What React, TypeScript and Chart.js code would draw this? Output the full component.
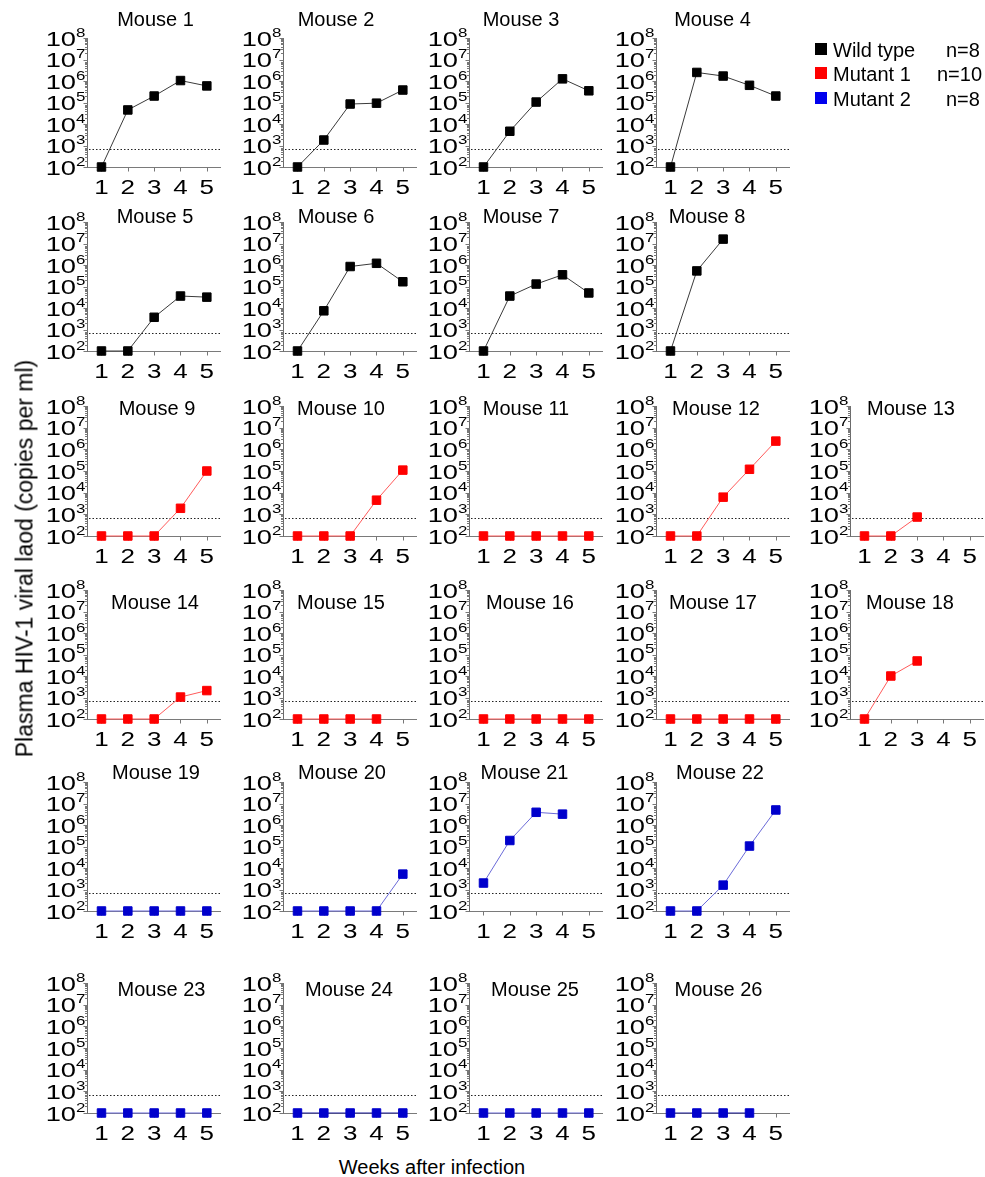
import React, { useEffect, useRef } from 'react';
import { Chart, registerables } from 'chart.js';
Chart.register(...registerables);

// ---------- data ----------
const weeks = [1, 2, 3, 4, 5];
const decadeExponents = [2, 3, 4, 5, 6, 7, 8];
const detectionLimit = 660;

// Wild type (n=8)
const mouse1 = [100, 4.5e4, 2.0e5, 1.05e6, 5.9e5];
const mouse2 = [100, 1.8e3, 8.5e4, 9.3e4, 3.8e5];
const mouse3 = [100, 4.6e3, 1.05e5, 1.26e6, 3.5e5];
const mouse4 = [100, 2.5e6, 1.7e6, 6.3e5, 2.0e5];
const mouse5 = [100, 100, 3.7e3, 3.6e4, 3.2e4];
const mouse6 = [100, 7.4e3, 8.5e5, 1.2e6, 1.66e5];
const mouse7 = [100, 3.6e4, 1.3e5, 3.5e5, 5.0e4];
const mouse8 = [100, 5.3e5, 1.6e7, null, null];
// Mutant 1 (n=10)
const mouse9 = [100, 100, 100, 1.9e3, 1.0e5];
const mouse10 = [100, 100, 100, 4.5e3, 1.1e5];
const mouse11 = [100, 100, 100, 100, 100];
const mouse12 = [100, 100, 6.2e3, 1.2e5, 2.4e6];
const mouse13 = [100, 100, 750, null, null];
const mouse14 = [100, 100, 100, 1.05e3, 2.1e3];
const mouse15 = [100, 100, 100, 100, null];
const mouse16 = [100, 100, 100, 100, 100];
const mouse17 = [100, 100, 100, 100, 100];
const mouse18 = [100, 1.0e4, 5.0e4, null, null];
// Mutant 2 (n=8)
const mouse19 = [100, 100, 100, 100, 100];
const mouse20 = [100, 100, 100, 100, 5.2e3];
const mouse21 = [2.0e3, 1.9e5, 3.9e6, 3.2e6, null];
const mouse22 = [100, 100, 1.6e3, 1.05e5, 5.0e6];
const mouse23 = [100, 100, 100, 100, 100];
const mouse24 = [100, 100, 100, 100, 100];
const mouse25 = [100, 100, 100, 100, 100];
const mouse26 = [100, 100, 100, 100, null];

const legendLabels = ['Wild type', 'Mutant 1', 'Mutant 2'];
const legendCounts = ['n=8', 'n=10', 'n=8'];

// ---------- styles / layout ----------
const FONT = '"Liberation Sans", Arial, Helvetica, sans-serif';
const groupStyle: Record<string, { marker: string; line: string }> = {
  wt: { marker: '#000000', line: '#3a3a3a' },
  m1: { marker: '#ff0000', line: '#ff5a5a' },
  m2: { marker: '#0000cc', line: '#6a6ad8' },
};
const colX = [87, 283, 469, 656, 850];
const rowTop = [38, 222, 406, 590, 782, 983];
const rowBottom = [167, 351, 536, 719, 911, 1113];
const rowTitleDy = [-19, -6, 2, 12, -10, 6];
const PADL = 62;
const PADR = 6;
const PADT = 34;
const PADB = 34;
const PLOT_W = 134;

type PanelSpec = {
  id: number;
  values: (number | null)[];
  group: string;
  row: number;
  col: number;
  titleDx: number;
  lineColor?: string;
};

const panels: PanelSpec[] = [
  { id: 1, values: mouse1, group: 'wt', row: 0, col: 0, titleDx: 68.5 },
  { id: 2, values: mouse2, group: 'wt', row: 0, col: 1, titleDx: 53 },
  { id: 3, values: mouse3, group: 'wt', row: 0, col: 2, titleDx: 52 },
  { id: 4, values: mouse4, group: 'wt', row: 0, col: 3, titleDx: 56.5 },
  { id: 5, values: mouse5, group: 'wt', row: 1, col: 0, titleDx: 68 },
  { id: 6, values: mouse6, group: 'wt', row: 1, col: 1, titleDx: 53 },
  { id: 7, values: mouse7, group: 'wt', row: 1, col: 2, titleDx: 52 },
  { id: 8, values: mouse8, group: 'wt', row: 1, col: 3, titleDx: 51 },
  { id: 9, values: mouse9, group: 'm1', row: 2, col: 0, titleDx: 70 },
  { id: 10, values: mouse10, group: 'm1', row: 2, col: 1, titleDx: 58 },
  { id: 11, values: mouse11, group: 'm1', row: 2, col: 2, titleDx: 57 },
  { id: 12, values: mouse12, group: 'm1', row: 2, col: 3, titleDx: 60 },
  { id: 13, values: mouse13, group: 'm1', row: 2, col: 4, titleDx: 61 },
  { id: 14, values: mouse14, group: 'm1', row: 3, col: 0, titleDx: 68 },
  { id: 15, values: mouse15, group: 'm1', row: 3, col: 1, titleDx: 58 },
  { id: 16, values: mouse16, group: 'm1', row: 3, col: 2, titleDx: 61 },
  { id: 17, values: mouse17, group: 'm1', row: 3, col: 3, titleDx: 57 },
  { id: 18, values: mouse18, group: 'm1', row: 3, col: 4, titleDx: 60 },
  { id: 19, values: mouse19, group: 'm2', row: 4, col: 0, titleDx: 69 },
  { id: 20, values: mouse20, group: 'm2', row: 4, col: 1, titleDx: 59 },
  { id: 21, values: mouse21, group: 'm2', row: 4, col: 2, titleDx: 55.5 },
  { id: 22, values: mouse22, group: 'm2', row: 4, col: 3, titleDx: 64 },
  { id: 23, values: mouse23, group: 'm2', row: 5, col: 0, titleDx: 74.5 },
  { id: 24, values: mouse24, group: 'm2', row: 5, col: 1, titleDx: 66, lineColor: '#1c1c9c' },
  { id: 25, values: mouse25, group: 'm2', row: 5, col: 2, titleDx: 66 },
  { id: 26, values: mouse26, group: 'm2', row: 5, col: 3, titleDx: 62.5, lineColor: '#1c1c9c' },
];

function Panel({ p }: { p: PanelSpec }) {
  const ref = useRef<HTMLCanvasElement>(null);
  const plotH = rowBottom[p.row] - rowTop[p.row];
  const W = PADL + PLOT_W + PADR;
  const H = PADT + plotH + PADB;
  const left = colX[p.col] - PADL;
  const top = rowTop[p.row] - PADT;

  useEffect(() => {
    const style = groupStyle[p.group];
    const decor = {
      id: 'decor',
      beforeDatasetsDraw(chart: any) {
        const { ctx, chartArea, scales } = chart;
        const ys = scales.y;
        const xs = scales.x;
        const L = Math.floor(chartArea.left) + 0.5;
        const B = Math.floor(chartArea.bottom) + 0.5;
        ctx.save();
        // detection limit dotted line
        const yl = Math.round(ys.getPixelForValue(detectionLimit)) + 0.5;
        ctx.strokeStyle = '#222';
        ctx.lineWidth = 1.2;
        ctx.setLineDash([1.5, 2]);
        ctx.beginPath();
        ctx.moveTo(chartArea.left + 2, yl);
        ctx.lineTo(chartArea.right, yl);
        ctx.stroke();
        ctx.setLineDash([]);
        // y ticks (major + minor)
        ctx.strokeStyle = '#777';
        ctx.lineWidth = 1;
        ctx.beginPath();
        for (const e of decadeExponents) {
          const y = Math.round(ys.getPixelForValue(Math.pow(10, e))) + 0.5;
          ctx.moveTo(L - 4, y);
          ctx.lineTo(L, y);
          if (e < 8) {
            for (let k = 2; k <= 9; k++) {
              const ym = Math.round(ys.getPixelForValue(k * Math.pow(10, e))) + 0.5;
              ctx.moveTo(L - 2.5, ym);
              ctx.lineTo(L, ym);
            }
          }
        }
        // x ticks
        for (const w of weeks) {
          const x = Math.round(xs.getPixelForValue(w)) + 0.5;
          ctx.moveTo(x, B);
          ctx.lineTo(x, B + 4);
        }
        ctx.stroke();
        ctx.restore();
      },
      afterDraw(chart: any) {
        const { ctx, chartArea, scales } = chart;
        const ys = scales.y;
        const xs = scales.x;
        const L = chartArea.left;
        ctx.save();
        ctx.fillStyle = '#000';
        ctx.textBaseline = 'alphabetic';
        for (const e of decadeExponents) {
          const y = ys.getPixelForValue(Math.pow(10, e));
          ctx.save();
          ctx.translate(L - 11, y + 7.5);
          ctx.scale(1.3, 1);
          ctx.font = `21px ${FONT}`;
          ctx.textAlign = 'right';
          ctx.fillText('10', 0, 0);
          ctx.restore();
          ctx.save();
          ctx.translate(L - 11, y - 1.5);
          ctx.scale(1.3, 1);
          ctx.font = `13px ${FONT}`;
          ctx.textAlign = 'left';
          ctx.fillText(String(e), 0, 0);
          ctx.restore();
        }
        for (const w of weeks) {
          const x = xs.getPixelForValue(w);
          ctx.save();
          ctx.translate(x, chartArea.bottom + 27);
          ctx.scale(1.3, 1);
          ctx.font = `20px ${FONT}`;
          ctx.textAlign = 'center';
          ctx.fillText(String(w), 0, 0);
          ctx.restore();
        }
        ctx.font = `20px ${FONT}`;
        ctx.textAlign = 'center';
        ctx.fillText(`Mouse ${p.id}`, L + p.titleDx, chartArea.top + rowTitleDy[p.row] + 7.2);
        ctx.restore();
      },
    };

    const chart = new Chart(ref.current as HTMLCanvasElement, {
      type: 'line',
      data: {
        datasets: [
          {
            data: p.values.map((v, i) => ({ x: weeks[i], y: v })) as any,
            borderColor: p.lineColor || style.line,
            backgroundColor: style.marker,
            pointBackgroundColor: style.marker,
            pointBorderColor: style.marker,
            pointStyle: 'rect',
            pointRadius: 6,
            pointBorderWidth: 1,
            borderWidth: 1,
            tension: 0,
            clip: false as any,
            spanGaps: false,
          },
        ],
      },
      options: {
        animation: false,
        responsive: false,
        events: [],
        layout: { padding: { left: 0, top: PADT, right: PADR, bottom: 0 } },
        plugins: { legend: { display: false }, tooltip: { enabled: false }, title: { display: false } },
        scales: {
          x: {
            type: 'linear',
            min: 0.45,
            max: 5.5,
            grid: { display: true, drawOnChartArea: false, drawTicks: false },
            border: { display: true, color: '#7a7a7a', width: 1 },
            ticks: { display: false },
            afterBuildTicks: (scale: any) => {
              scale.ticks = weeks.map((w) => ({ value: w }));
            },
            afterFit: (scale: any) => {
              scale.height = PADB;
            },
          },
          y: {
            type: 'logarithmic',
            min: 100,
            max: 1e8,
            grid: { display: true, drawOnChartArea: false, drawTicks: false },
            border: { display: true, color: '#6a6a6a', width: 1 },
            ticks: { display: false },
            afterBuildTicks: (scale: any) => {
              scale.ticks = decadeExponents.map((e) => ({ value: Math.pow(10, e) }));
            },
            afterFit: (scale: any) => {
              scale.width = PADL;
            },
          },
        },
      },
      plugins: [decor],
    });
    return () => chart.destroy();
  }, []);

  return (
    <canvas
      ref={ref}
      width={W}
      height={H}
      style={{ position: 'absolute', left, top, width: W, height: H }}
    />
  );
}

export default function App() {
  const legendColors = [groupStyle.wt.marker, '#ff0000', '#0000ee'];
  const legendY = [49, 73, 98];
  const countX = [946, 937, 946];
  return (
    <div
      style={{
        position: 'absolute',
        left: 0,
        top: 0,
        width: 985,
        height: 1177,
        overflow: 'hidden',
        background: '#fff',
        fontFamily: FONT,
        color: '#000',
      }}
    >
      {panels.map((p) => (
        <Panel key={p.id} p={p} />
      ))}
      {legendLabels.map((lab, i) => (
        <React.Fragment key={lab}>
          <div
            style={{
              position: 'absolute',
              left: 815,
              top: legendY[i] - 6,
              width: 12,
              height: 12,
              background: legendColors[i],
            }}
          />
          <div
            style={{
              position: 'absolute',
              left: 833,
              top: legendY[i] - 9.5,
              fontSize: 20,
              lineHeight: '20px',
              whiteSpace: 'nowrap',
            }}
          >
            {lab}
          </div>
          <div
            style={{
              position: 'absolute',
              left: countX[i],
              top: legendY[i] - 9.5,
              fontSize: 20,
              lineHeight: '20px',
              whiteSpace: 'nowrap',
            }}
          >
            {legendCounts[i]}
          </div>
        </React.Fragment>
      ))}
      <div
        style={{
          position: 'absolute',
          left: 25 - 250,
          top: 558 - 11.5,
          width: 500,
          height: 23,
          lineHeight: '23px',
          fontSize: 23,
          textAlign: 'center',
          whiteSpace: 'nowrap',
          transform: 'rotate(-90deg)',
          transformOrigin: '50% 50%',
        }}
      >
        Plasma HIV-1 viral laod (copies per ml)
      </div>
      <div
        style={{
          position: 'absolute',
          left: 232,
          width: 400,
          top: 1157,
          fontSize: 20,
          lineHeight: '20px',
          textAlign: 'center',
          whiteSpace: 'nowrap',
        }}
      >
        Weeks after infection
      </div>
    </div>
  );
}
